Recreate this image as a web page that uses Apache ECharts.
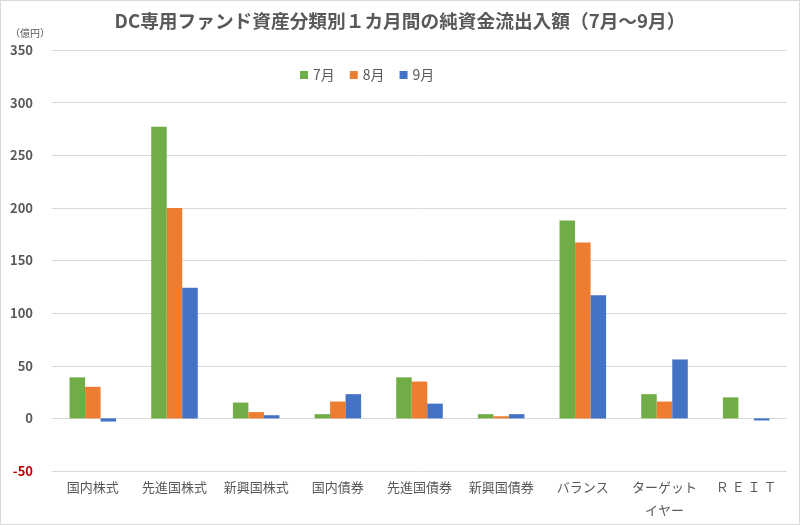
<!DOCTYPE html>
<html><head><meta charset="utf-8">
<script src="https://cdn.jsdelivr.net/npm/echarts@6/dist/echarts.min.js"></script>
<style>html,body{margin:0;padding:0;background:#fff}#c{width:798px;height:523px;border:1px solid #d9d9d9}</style>
</head><body><div id="c"></div>
<script>
const categories = ['国内株式','先進国株式','新興国株式','国内債券','先進国債券','新興国債券','バランス','ターゲット\nイヤー','Ｒ Ｅ Ｉ Ｔ'];
const seriesNames = ['7月','8月','9月'];
const jul = [39, 277, 15, 4, 39, 4, 188, 23, 20];
const aug = [30, 200, 6, 16, 35, 2, 167, 16, 0];
const sep = [-3, 124, 3, 23, 14, 4, 117, 56, -2];
const yTicks = {min: -50, max: 350, interval: 50};
const colors = ['#70ad47','#ed7d31','#4472c4'];
const font = '"Noto Sans CJK JP", "Noto Sans", sans-serif';
const chart = echarts.init(document.getElementById('c'));
chart.setOption({
  animation: false,
  textStyle: {fontFamily: font},
  title: {text: 'DC専用ファンド資産分類別１カ月間の純資金流出入額（7月～9月）', left: 'center', top: 6,
    textStyle: {fontFamily: font, fontSize: 18.7, fontWeight: 'bold', color: '#595959'}},
  legend: {data: seriesNames, top: 62, left: 294, itemWidth: 8, itemHeight: 8, itemGap: 15,
    textStyle: {fontSize: 14, color: '#595959'}, icon: 'rect'},
  grid: {left: 51, right: 12, top: 49, bottom: 53, containLabel: false, outerBoundsMode: 'none'},
  graphic: [{type: 'text', left: 9, top: 27, style: {text: '（億円）', fontSize: 10, fill: '#595959', fontFamily: font}}],
  xAxis: {type: 'category', data: categories,
    axisLine: {show: false, onZero: false}, axisTick: {show: false},
    axisLabel: {color: '#595959', fontSize: 13, margin: 5, lineHeight: 23, verticalAlign: 'top', interval: 0}},
  yAxis: {type: 'value', min: yTicks.min, max: yTicks.max, interval: yTicks.interval,
    axisLine: {show: false}, axisTick: {show: false},
    splitLine: {lineStyle: {color: '#d9d9d9'}},
    axisLabel: {fontSize: 13, fontWeight: 'bold', margin: 19,
      color: v => (Number(v) < 0 ? '#c00000' : '#595959')}},
  series: [jul, aug, sep].map((d, i) => ({
    name: seriesNames[i], type: 'bar', data: d, barGap: '0%', barCategoryGap: '43%',
    itemStyle: {color: colors[i]}
  }))
});
</script></body></html>
